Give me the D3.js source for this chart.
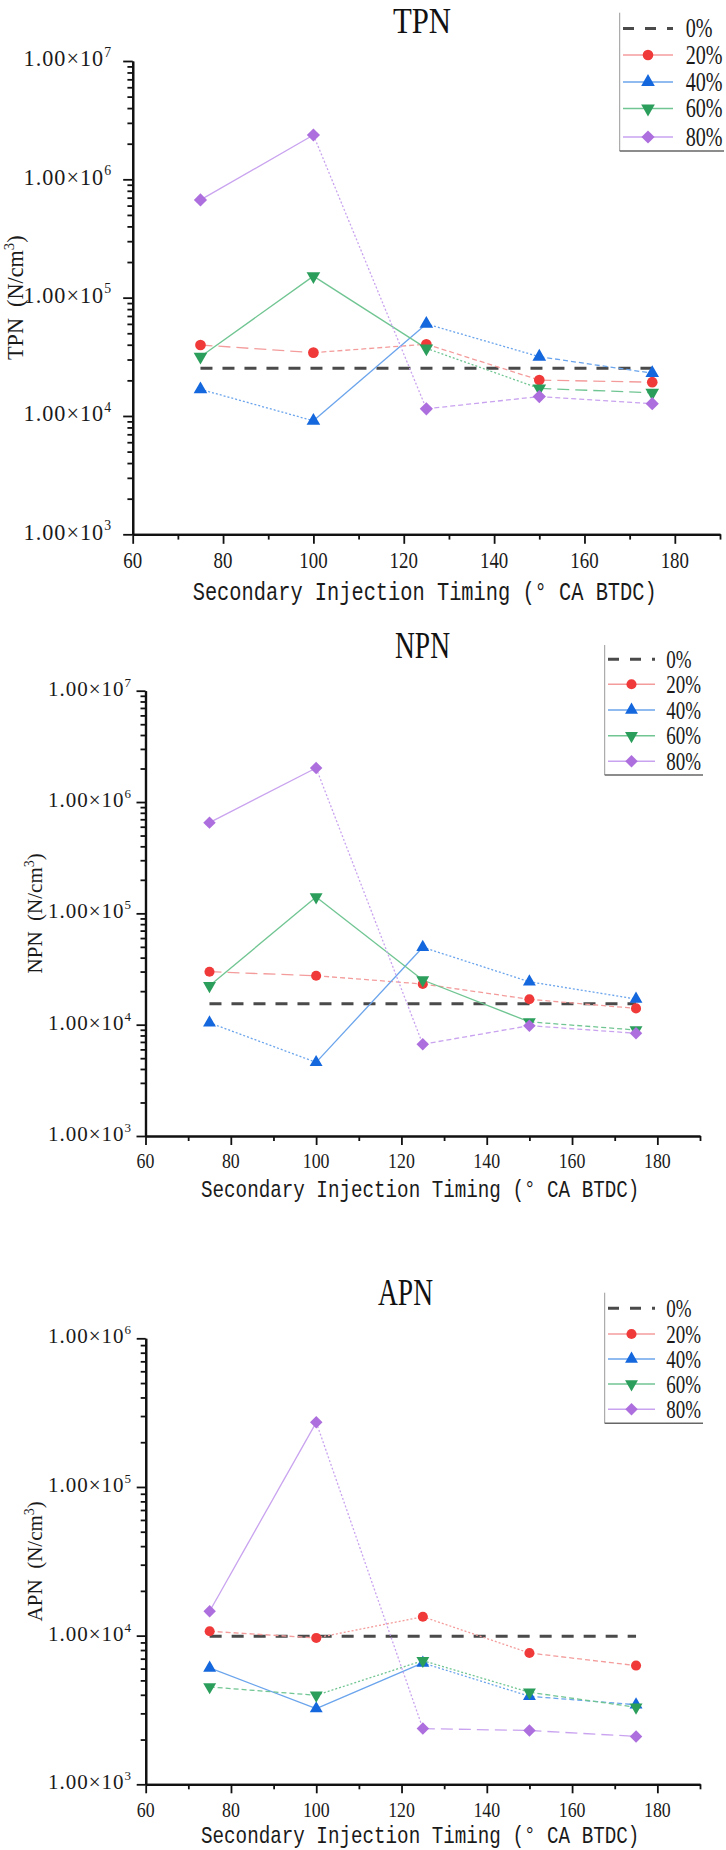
<!DOCTYPE html>
<html><head><meta charset="utf-8">
<script src="https://cdn.jsdelivr.net/npm/d3@7"></script>
<style>body{margin:0;background:#fff} svg{display:block}</style>
</head><body>
<svg id="c" width="726" height="1850"></svg>
<script>
// ---------- data ----------
const timing = [75, 100, 125, 150, 175];
const seriesNames = ["0%", "20%", "40%", "60%", "80%"];
const xTicks = [60, 80, 100, 120, 140, 160, 180];
const xMinorTicks = [70, 90, 110, 130, 150, 170, 190];

const tpn0  = [25300, 25300, 25300, 25300, 25300];
const tpn20 = [39800, 34300, 40400, 20100, 19300];
const tpn40 = [16800, 9100, 60000, 31700, 23000];
const tpn60 = [31700, 152000, 37300, 17100, 15700];
const tpn80 = [670000, 2370000, 11500, 14600, 12700];

const npn0  = [15400, 15400, 15400, 15400, 15400];
const npn20 = [29900, 27500, 23200, 16900, 14000];
const npn40 = [10400, 4590, 49600, 24300, 17000];
const npn60 = [22400, 140000, 25200, 10600, 8960];
const npn80 = [653000, 2020000, 6670, 9800, 8370];

const apn0  = [9900, 9900, 9900, 9900, 9900];
const apn20 = [10700, 9650, 13400, 7640, 6290];
const apn40 = [6060, 3230, 6550, 3910, 3430];
const apn60 = [4520, 3970, 6790, 4160, 3300];
const apn80 = [14600, 272000, 2370, 2300, 2100];

const tpnTicks = [1e3, 1e4, 1e5, 1e6, 1e7];
const npnTicks = [1e3, 1e4, 1e5, 1e6, 1e7];
const apnTicks = [1e3, 1e4, 1e5, 1e6];

// ---------- styles ----------
const markerColors = ["#444", "#f03a3a", "#1467dd", "#2b9e5c", "#ad6fdd"];
const lineColors   = ["#4a4a4a", "#f49c9c", "#6aa4ec", "#70c592", "#c9a3ef"];
const dashCodes = { s: null, d: "5,3", o: "2,2", l: "12,6" };
// per-segment line style of series 20%..80%
const tpnSegStyle = ["lddl", "osod", "ssol", "sodd"];
const npnSegStyle = ["lddd", "osoo", "sssd", "sodd"];
const apnSegStyle = ["dood", "ssod", "dood", "soll"];

// ---------- layout ----------
const layouts = [
  { x0: 132.7, x1: 720, yTop: 61, yBot: 534.3, k: 1.058, titleX: 422, titleY: 33, titleSize: 35, yTitleX: 15,
    yLabelRight: 112, xTickBase: 568, xTitleX: 192.7, xTitleY: 600, xTitleLen: 464,
    lg: { left: 619.7, top: 12.7, bottom: 151, right: 724, lx0: 623, lx1: 673, tx: 685.7,
          rows: [28.5, 55, 82, 108.5, 137] } },
  { x0: 145.5, x1: 700, yTop: 690.7, yBot: 1136, k: 1, titleX: 422.5, titleY: 658, titleSize: 38, yTitleX: 35,
    yLabelRight: 132, xTickBase: 1168, xTitleX: 201, xTitleY: 1197, xTitleLen: 438.6,
    lg: { left: 604.7, top: 645, bottom: 775, right: 703, lx0: 608, lx1: 655, tx: 666.3,
          rows: [659.3, 684.3, 710, 735.7, 761.3] } },
  { x0: 145.7, x1: 700, yTop: 1338.3, yBot: 1784.3, k: 1, titleX: 405.5, titleY: 1305, titleSize: 38, yTitleX: 35,
    yLabelRight: 132, xTickBase: 1817, xTitleX: 201, xTitleY: 1843, xTitleLen: 438.6,
    lg: { left: 604.7, top: 1292.7, bottom: 1423.3, right: 703, lx0: 608, lx1: 655, tx: 666.3,
          rows: [1308.3, 1334, 1359, 1384, 1409.3] } }
];

const charts = [
  { name: "TPN", series: [tpn0, tpn20, tpn40, tpn60, tpn80], ticks: tpnTicks, seg: tpnSegStyle, domain: [1e3, 1e7] },
  { name: "NPN", series: [npn0, npn20, npn40, npn60, npn80], ticks: npnTicks, seg: npnSegStyle, domain: [1e3, 1e7] },
  { name: "APN", series: [apn0, apn20, apn40, apn60, apn80], ticks: apnTicks, seg: apnSegStyle, domain: [1e3, 1e6] }
];

const svg = d3.select("#c");
const SERIF = "'Liberation Serif','Times New Roman',serif";
const MONO = "'Liberation Mono','DejaVu Sans Mono',monospace";

function symbolFor(i, k) {
  const g = d3.symbol();
  if (i === 1) return { path: g.type(d3.symbolCircle).size(80 * k * k)(), rot: 0 };
  if (i === 2) return { path: g.type(d3.symbolTriangle).size(72 * k * k)(), rot: 0 };
  if (i === 3) return { path: g.type(d3.symbolTriangle).size(72 * k * k)(), rot: 180 };
  return { path: g.type(d3.symbolSquare).size(78 * k * k)(), rot: 45 };
}

// place a text so that its rendered width equals `len` by scaling horizontally
function fitText(g, str, px, py, len, anchor, family, size, fill) {
  const t = g.append("text")
    .attr("text-anchor", anchor)
    .attr("font-family", family).attr("font-size", size).attr("fill", fill)
    .text(str);
  const w = t.node().getComputedTextLength() || len;
  const sx = len / w;
  t.attr("transform", `translate(${px},${py}) scale(${sx},1)`);
  return t;
}

charts.forEach((ch, ci) => {
  const L = layouts[ci];
  const k = L.k;
  const x = d3.scaleLinear().domain([60, 190]).range([L.x0, L.x1]);
  const y = d3.scaleLog().domain(ch.domain).range([L.yBot, L.yTop]);
  const g = svg.append("g");

  const minors = [];
  for (let e = Math.log10(ch.domain[0]); e < Math.log10(ch.domain[1]); e++)
    for (let m = 2; m <= 9; m++) minors.push(m * Math.pow(10, e));

  const axStyle = sel => {
    sel.select(".domain").attr("stroke", "#111").attr("stroke-width", 2.2);
    sel.selectAll(".tick line").attr("stroke", "#111").attr("stroke-width", 1.8);
    sel.selectAll(".tick text").remove();
  };

  g.append("g").attr("transform", `translate(${L.x0},0)`)
    .call(d3.axisLeft(y).tickValues(minors).tickSize(5 * k).tickSizeOuter(0).tickFormat(""))
    .call(axStyle);
  g.append("g").attr("transform", `translate(${L.x0},0)`)
    .call(d3.axisLeft(y).tickValues(ch.ticks).tickSize(9 * k).tickSizeOuter(0).tickFormat(""))
    .call(axStyle);
  g.append("g").attr("transform", `translate(0,${L.yBot})`)
    .call(d3.axisBottom(x).tickValues(xMinorTicks).tickSize(5 * k).tickSizeOuter(0).tickFormat(""))
    .call(axStyle);
  g.append("g").attr("transform", `translate(0,${L.yBot})`)
    .call(d3.axisBottom(x).tickValues(xTicks).tickSize(9 * k).tickSizeOuter(0).tickFormat(""))
    .call(axStyle);

  // y tick labels
  ch.ticks.forEach(v => {
    const t = g.append("text")
      .attr("x", L.yLabelRight).attr("y", y(v) + 5 * k)
      .attr("text-anchor", "end")
      .attr("font-family", SERIF).attr("font-size", 21 * k)
      .attr("letter-spacing", 1).attr("fill", "#1a1a1a");
    t.append("tspan").text("1.00×10");
    t.append("tspan").attr("dy", -9 * k).attr("font-size", 13 * k).text(Math.round(Math.log10(v)));
  });

  // x tick labels
  xTicks.forEach(v => {
    g.append("text")
      .attr("transform", `translate(${x(v)},${L.xTickBase}) scale(0.85,1)`)
      .attr("text-anchor", "middle")
      .attr("font-family", SERIF).attr("font-size", 21 * k).attr("fill", "#1a1a1a")
      .text(v);
  });

  // x title
  fitText(g, "Secondary Injection Timing (° CA BTDC)", L.xTitleX, L.xTitleY, L.xTitleLen,
          "start", MONO, 24 * k, "#1a1a1a");

  // y title
  const yt = g.append("text")
    .attr("transform", `translate(${L.yTitleX},${(L.yTop + L.yBot) / 2}) rotate(-90)`)
    .attr("text-anchor", "middle").attr("dominant-baseline", "central")
    .attr("font-family", SERIF).attr("font-size", 21 * k).attr("fill", "#1a1a1a");
  yt.append("tspan").text(ch.name + "\u00a0\u00a0(N/cm");
  yt.append("tspan").attr("dy", -6 * k).attr("font-size", 14 * k).text("3");
  yt.append("tspan").attr("dy", 6 * k).text(")");

  // chart title
  fitText(g, ch.name, L.titleX, L.titleY, 55 * k, "middle", SERIF, L.titleSize, "#111");

  // lines
  const line = d3.line();
  g.append("path")
    .attr("d", line(timing.map((t, j) => [x(t), y(ch.series[0][j])])))
    .attr("fill", "none").attr("stroke", lineColors[0]).attr("stroke-width", 3)
    .attr("stroke-dasharray", "12,10");
  for (let i = 1; i < ch.series.length; i++) {
    const vals = ch.series[i];
    for (let j = 0; j < timing.length - 1; j++) {
      const code = ch.seg[i - 1][j];
      const p = g.append("path")
        .attr("d", line([[x(timing[j]), y(vals[j])], [x(timing[j + 1]), y(vals[j + 1])]]))
        .attr("fill", "none").attr("stroke", lineColors[i]).attr("stroke-width", 1.3);
      if (dashCodes[code]) p.attr("stroke-dasharray", dashCodes[code]);
    }
  }
  // markers
  for (let i = 1; i < ch.series.length; i++) {
    const sym = symbolFor(i, k);
    ch.series[i].forEach((v, j) => {
      g.append("path").attr("d", sym.path)
        .attr("transform", `translate(${x(timing[j])},${y(v)}) rotate(${sym.rot})`)
        .attr("fill", markerColors[i]);
    });
  }

  // legend
  const lg = L.lg;
  g.append("line").attr("x1", lg.left).attr("x2", lg.left).attr("y1", lg.top).attr("y2", lg.bottom)
    .attr("stroke", "#999").attr("stroke-width", 1);
  g.append("line").attr("x1", lg.left).attr("x2", lg.right).attr("y1", lg.bottom).attr("y2", lg.bottom)
    .attr("stroke", "#666").attr("stroke-width", 1.6);
  seriesNames.forEach((nm, i) => {
    const ry = lg.rows[i];
    const ln = g.append("line").attr("x1", lg.lx0).attr("x2", lg.lx1).attr("y1", ry).attr("y2", ry)
      .attr("stroke", lineColors[i]).attr("stroke-width", i === 0 ? 3 : 1.6);
    if (i === 0) ln.attr("stroke-dasharray", "11,11");
    else {
      const sym = symbolFor(i, k);
      g.append("path").attr("d", sym.path)
        .attr("transform", `translate(${(lg.lx0 + lg.lx1) / 2},${ry}) rotate(${sym.rot})`)
        .attr("fill", markerColors[i]);
    }
    g.append("text")
      .attr("transform", `translate(${lg.tx},${ry + 8.5 * k}) scale(0.76,1)`)
      .attr("font-family", SERIF).attr("font-size", 25 * k).attr("fill", "#1a1a1a")
      .text(nm);
  });
});
</script>
</body></html>
